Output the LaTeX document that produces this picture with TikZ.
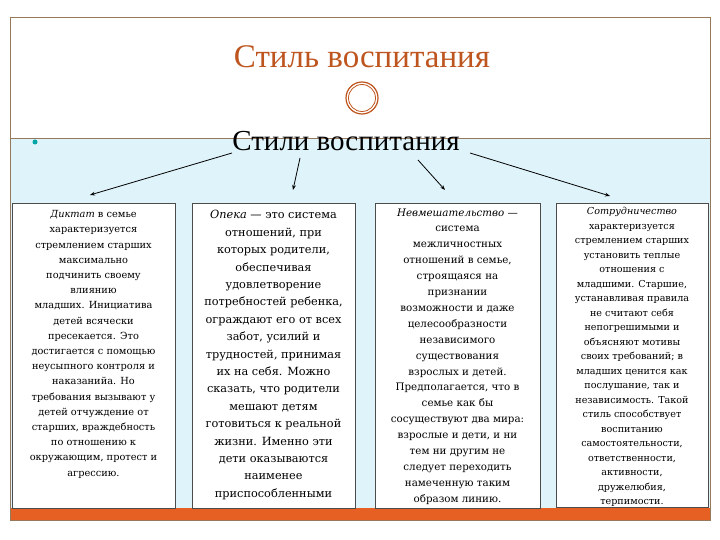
\documentclass[tikz,border=0pt]{standalone}
\usepackage{fontspec}
\setmainfont{Liberation Serif}
\newfontfamily\boxfont{DejaVu Serif}
\usetikzlibrary{arrows.meta}
\definecolor{ttl}{RGB}{190,85,30}
\definecolor{bgb}{RGB}{222,243,250}
\definecolor{frm}{RGB}{150,120,90}
\definecolor{org}{RGB}{230,95,35}
\begin{document}
\begin{tikzpicture}[x=1pt,y=-1pt,
  txtbox/.style={draw=black!70,fill=white},
  arr/.style={-{Stealth[length=5pt]},thick}]
\useasboundingbox (0,0) rectangle (720,540);
\fill[white] (0,0) rectangle (720,540);
\fill[bgb] (10,138) rectangle (710,520);
\fill[org] (10,508) rectangle (710,520);
\draw[frm,thin] (10,17) rectangle (710,520);
\draw[frm] (10,138) -- (710,138);
\fill[white] (362,98) circle (22);
\draw[ttl,line width=1.2pt] (362,98) circle (16);
\draw[ttl,line width=0.8pt] (362,98) circle (13.5);
\node (title) [ttl,font=\fontsize{33}{36}\selectfont] at (362,57) {Стиль воспитания};
\fill[teal!70!cyan] (35,142) circle (2.5);
\node (sub) [font=\fontsize{29}{32}\selectfont] at (346,141) {Стили воспитания};
\draw[txtbox] (12,203) rectangle (175,508);
\draw[txtbox] (192,203) rectangle (355,508);
\draw[txtbox] (375,203) rectangle (540,508);
\draw[txtbox] (556,203) rectangle (708,507);
\node (b1) [align=center,anchor=north,font=\boxfont\fontsize{9.8}{15.2}\selectfont] at (93.5,207)
{\textit{Диктат} в семье\\характеризуется\\стремлением старших\\максимально\\подчинить своему\\влиянию\\младших. Инициатива\\детей всячески\\пресекается. Это\\достигается с помощью\\неусыпного контроля и\\наказанийа. Но\\требования вызывают у\\детей отчуждение от\\старших, враждебность\\по отношению к\\окружающим, протест и\\агрессию.};
\node (b2) [align=center,anchor=north,font=\boxfont\fontsize{11.3}{17.4}\selectfont] at (273.5,207)
{\textit{Опека} — это система\\отношений, при\\которых родители,\\обеспечивая\\удовлетворение\\потребностей ребенка,\\ограждают его от всех\\забот, усилий и\\трудностей, принимая\\их на себя. Можно\\сказать, что родители\\мешают детям\\готовиться к реальной\\жизни. Именно эти\\дети оказываются\\наименее\\приспособленными};
\node (b3) [align=center,anchor=north,font=\boxfont\fontsize{10.3}{15.9}\selectfont] at (457.5,205)
{\textit{Невмешательство} —\\система\\межличностных\\отношений в семье,\\строящаяся на\\признании\\возможности и даже\\целесообразности\\независимого\\существования\\взрослых и детей.\\Предполагается, что в\\семье как бы\\сосуществуют два мира:\\взрослые и дети, и ни\\тем ни другим не\\следует переходить\\намеченную таким\\образом линию.};
\node (b4) [align=center,anchor=north,font=\boxfont\fontsize{9.6}{14.5}\selectfont] at (632,204)
{\textit{Сотрудничество}\\характеризуется\\стремлением старших\\установить теплые\\отношения с\\младшими. Старшие,\\устанавливая правила\\не считают себя\\непогрешимыми и\\объясняют мотивы\\своих требований; в\\младших ценится как\\послушание, так и\\независимость. Такой\\стиль способствует\\воспитанию\\самостоятельности,\\ответственности,\\активности,\\дружелюбия,\\терпимости.};
\coordinate (s1) at (232,153);
\coordinate (s2) at (300,158);
\coordinate (s3) at (418,160);
\coordinate (s4) at (470,153);
\coordinate (t1) at (90,195);
\coordinate (t2) at (293,190);
\coordinate (t3) at (445,190);
\coordinate (t4) at (610,196);
\draw[arr] (s1) -- (t1);
\draw[arr] (s2) -- (t2);
\draw[arr] (s3) -- (t3);
\draw[arr] (s4) -- (t4);
\end{tikzpicture}
\end{document}
